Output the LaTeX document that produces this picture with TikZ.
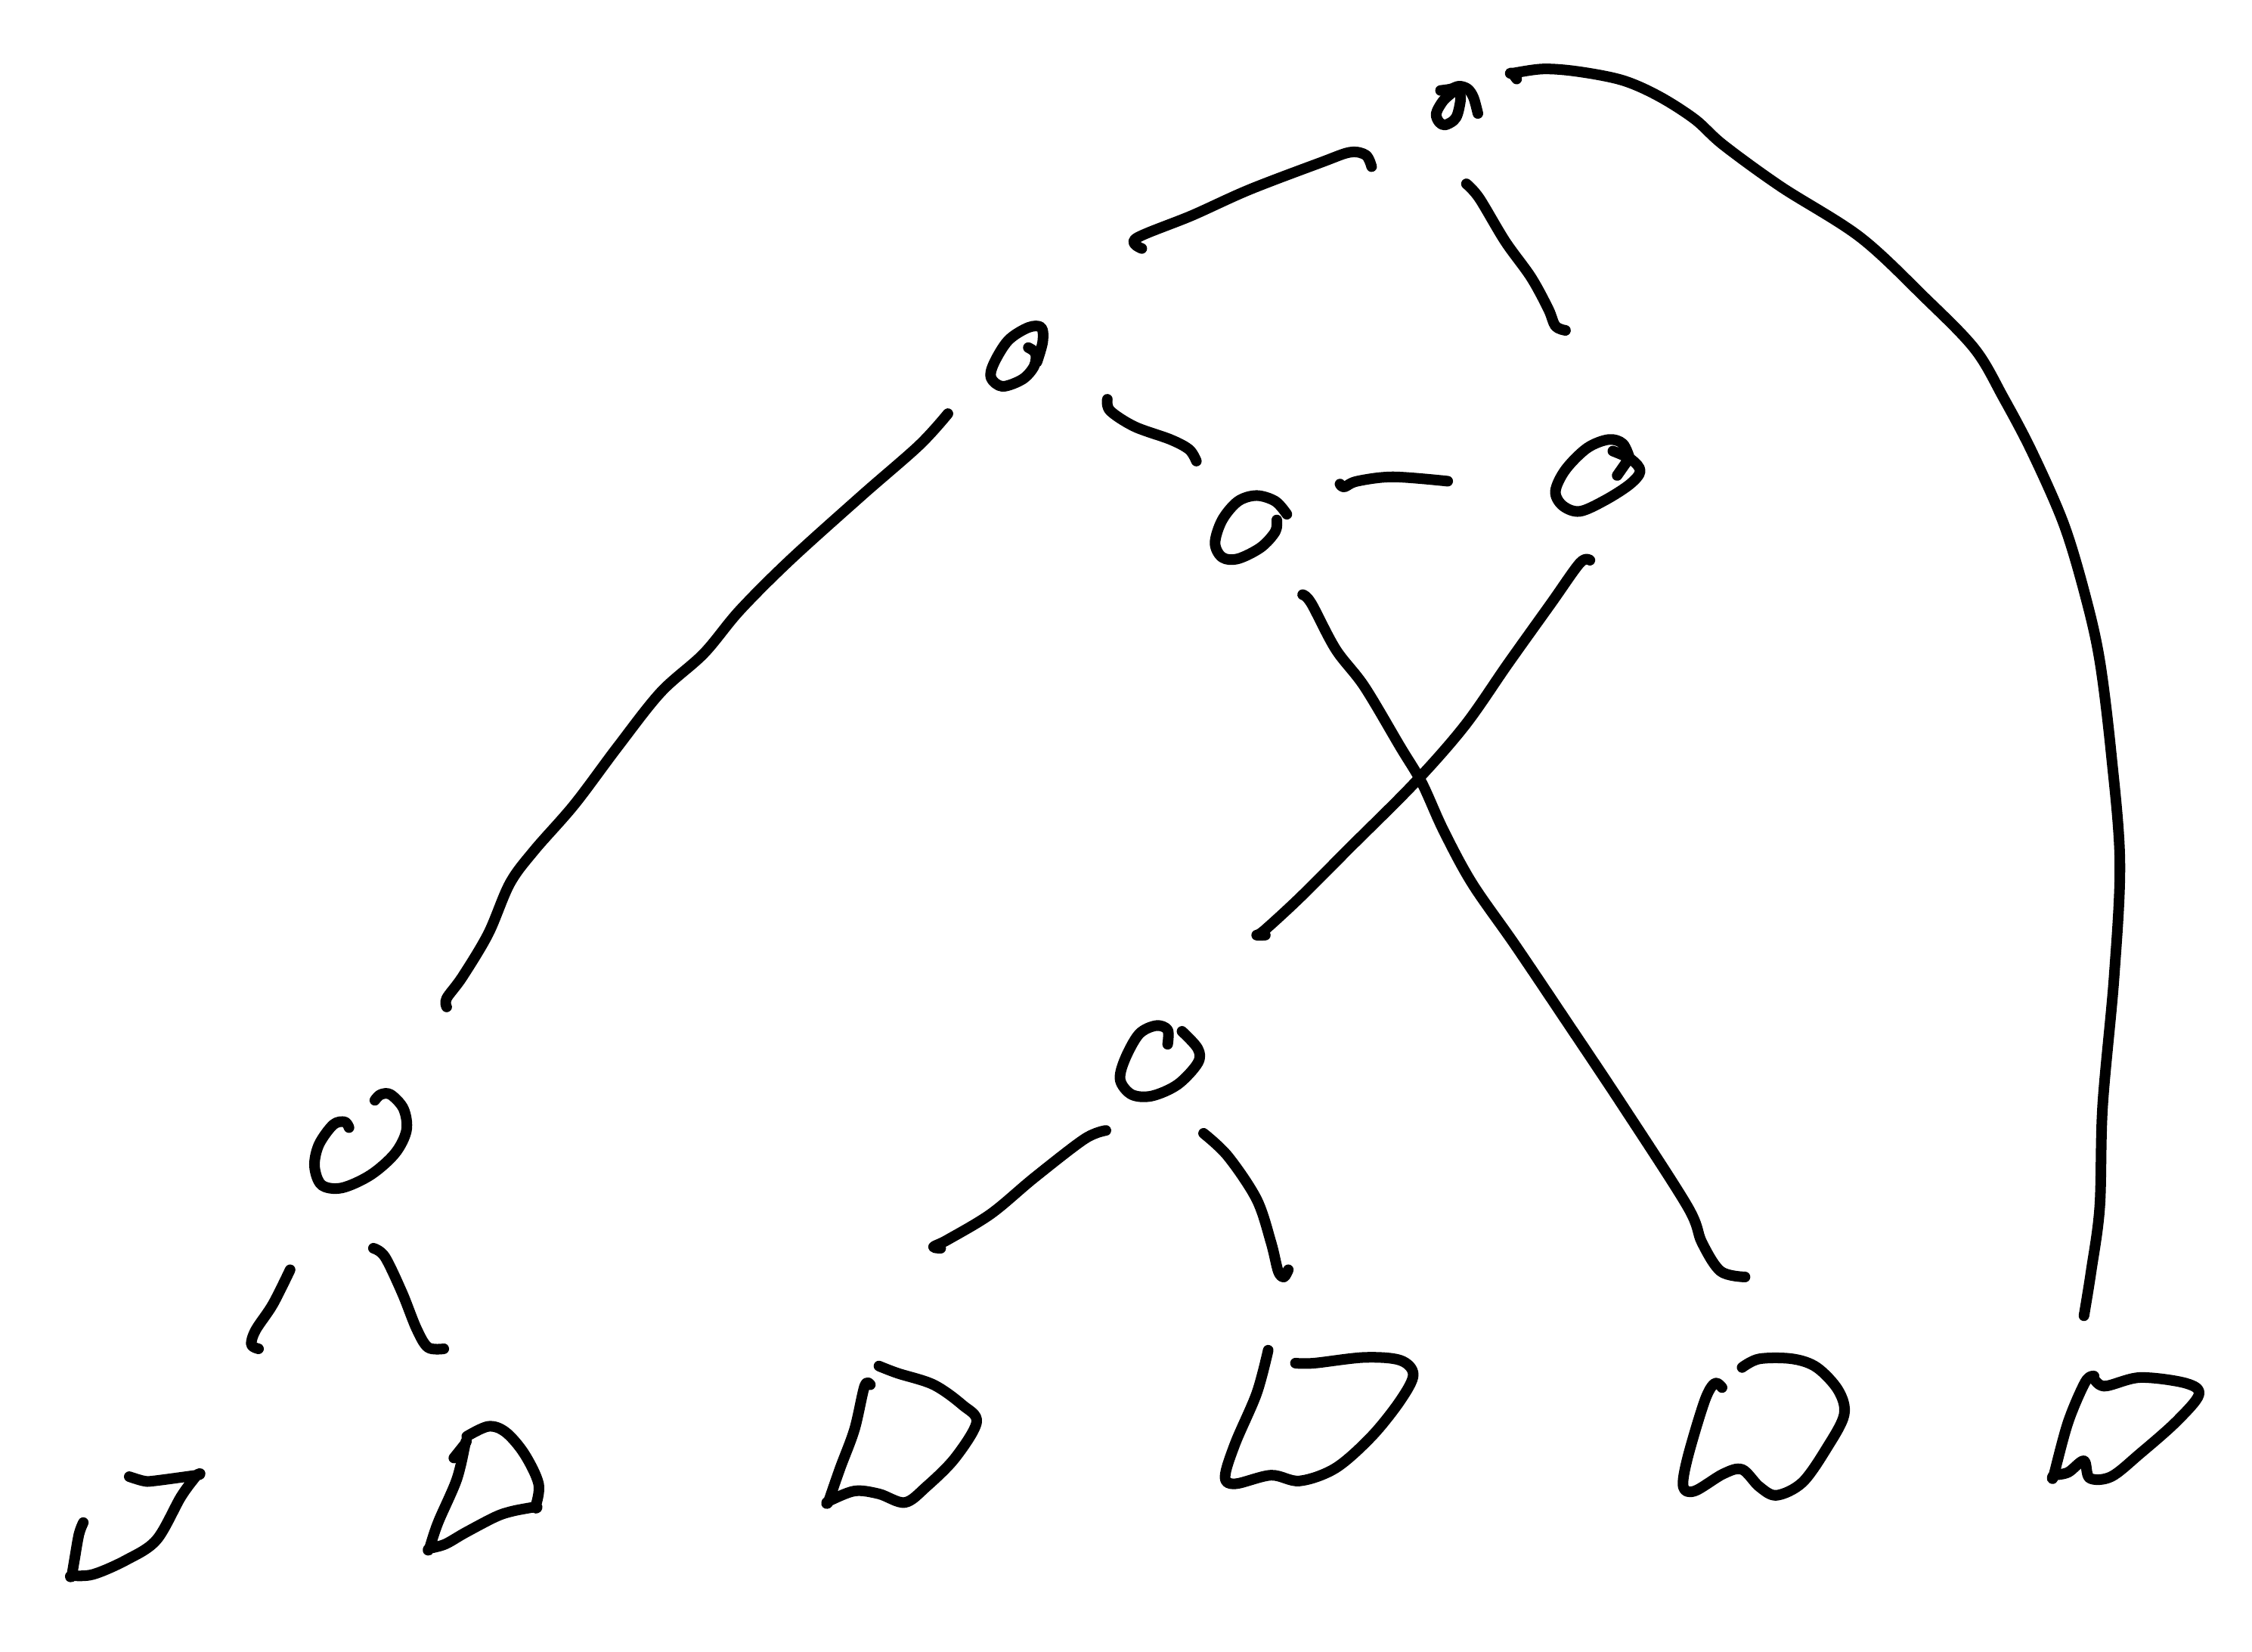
\documentclass[tikz,border=0pt]{standalone}
\tikzset{
  ink/.style={draw=black,line width=2.1pt,line cap=round,line join=round},
}
\newcommand{\stroke}[1]{\draw[ink] plot[smooth,tension=0.55] coordinates {#1};}
\begin{document}
\begin{tikzpicture}[x=0.01cm,y=-0.01cm]
\useasboundingbox (0,0) rectangle (1568,1149.6);
% root
\stroke{(1003,63)(1010,62)(1016,60)(1022,62)(1026,68)(1029,79)}
\stroke{(1013,63)(1005,70)(1000,79)(1002,85)(1006,87)(1012,84)(1015,79)(1017,68)(1015,61)}
% right arc
\stroke{(1056,55)(1053,51)(1053,51)(1075,48)(1100,50)(1130,56)(1155,67)(1180,83)(1200,101)(1240,130)(1295,165)(1340,207)(1375,243)(1395,277)(1415,315)(1437,365)(1452,415)(1462,460)(1470,525)(1476,600)(1472,680)(1464,770)(1462,840)(1456,885)(1451,916)}
\stroke{(795,173)(791,166)(830,150)(870,132)(920,113)(940,106)(951,108)(955,116)}
\stroke{(1021,128)(1030,138)(1048,168)(1066,193)(1078,215)(1083,227)(1090,230)}
% node left
\stroke{(716,242)(721,246)(720,255)(712,264)(698,269)(690,263)(692,253)(702,237)(716,228)(725,228)(726,238)(722,252)}
\stroke{(771,278)(773,286)(790,297)(815,306)(828,313)(833,321)}
% node mid
\stroke{(896,358)(888,349)(875,345)(862,349)(851,362)(846,378)(851,388)(862,389)(878,381)(888,370)(889,362)}
\stroke{(933,337)(936,339)(945,335)(970,332)(1008,335)}
% node right
\stroke{(1135,320)(1130,309)(1120,306)(1105,312)(1090,327)(1083,342)(1088,352)(1100,356)(1118,348)(1135,337)(1142,328)(1136,320)(1123,314)}
\stroke{(1126,331)(1133,321)}
% long left
\stroke{(660,288)(640,310)(600,345)(550,390)(515,425)(490,455)(460,482)(430,520)(400,560)(372,592)(355,615)(340,650)(322,680)(311,695)(311,701)}
% cross
\stroke{(907,414)(913,420)(930,452)(950,478)(975,520)(990,545)(1005,578)(1025,615)(1055,658)(1090,710)(1130,770)(1175,840)(1185,865)(1198,885)(1215,889)}
\stroke{(1107,390)(1100,392)(1080,420)(1050,462)(1020,505)(985,545)(940,590)(905,625)(880,648)(875,651)(881,651)}
% lower centre node
\stroke{(813,727)(813,717)(805,714)(793,720)(783,738)(780,752)(788,762)(802,763)(820,755)(834,740)(834,730)(823,718)}
\stroke{(770,787)(755,793)(720,820)(690,845)(660,863)(650,868)(655,869)}
\stroke{(838,789)(855,805)(875,835)(885,865)(890,885)(894,889)(897,884)}
% lower left node
\stroke{(243,785)(240,781)(232,783)(222,797)(219,812)(224,825)(238,827)(258,818)(275,803)(283,787)(281,772)(272,762)(265,762)(261,766)}
\stroke{(202,884)(190,908)(178,926)(175,936)(180,939)}
\stroke{(260,869)(268,875)(280,900)(290,925)(298,938)(309,939)}
% leaves
\stroke{(58,1060)(55,1068)(52,1085)(50,1097)(50,1097)(65,1096)(88,1086)(109,1072)(126,1042)(137,1027)(137,1027)(107,1031)(100,1031)(90,1028)}
\stroke{(316,1015)(324,1005)(324,1005)(318,1030)(305,1060)(299,1078)(299,1078)(310,1075)(324,1067)(345,1056)(357,1052)(373,1049)(373,1049)(375,1033)(365,1012)(352,997)(340,993)(325,1000)}
\stroke{(606,964)(602,965)(595,995)(585,1022)(577,1045)(577,1045)(595,1038)(612,1040)(630,1046)(645,1035)(665,1015)(680,990)(670,978)(650,964)(625,956)(612,951)}
\stroke{(883,940)(875,970)(860,1005)(853,1028)(860,1033)(885,1027)(905,1031)(930,1022)(955,1000)(975,975)(984,957)(975,947)(950,945)(915,949)(902,949)}
\stroke{(1199,966)(1194,963)(1187,975)(1175,1015)(1172,1035)(1180,1038)(1200,1026)(1213,1023)(1225,1035)(1237,1041)(1255,1032)(1272,1008)(1284,985)(1280,968)(1265,952)(1248,946)(1225,946)(1213,952)}
\stroke{(1458,958)(1452,962)(1440,990)(1430,1027)(1430,1027)(1440,1025)(1451,1017)(1455,1029)(1470,1028)(1490,1012)(1515,990)(1531,971)(1522,963)(1490,959)(1465,965)(1457,958)}
\end{tikzpicture}
\end{document}
